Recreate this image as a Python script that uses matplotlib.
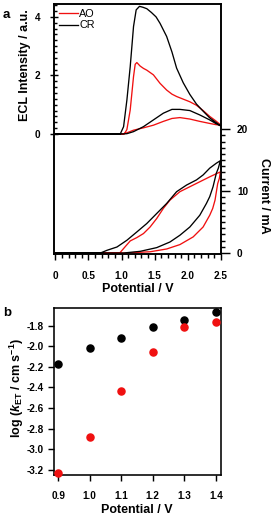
import matplotlib
matplotlib.use("Agg")
import matplotlib.pyplot as plt
from matplotlib.ticker import FixedLocator, MultipleLocator
import numpy as np

plt.rcParams['font.family'] = ['Liberation Sans', 'DejaVu Sans']
plt.rcParams['font.weight'] = 'bold'
plt.rcParams['mathtext.fontset'] = 'custom'
plt.rcParams['mathtext.rm'] = 'Liberation Sans:bold'
plt.rcParams['mathtext.it'] = 'Liberation Sans:italic:bold'
plt.rcParams['mathtext.bf'] = 'Liberation Sans:bold'

# ---- Panel a: ECL intensity vs potential (forward then reverse scan) ----
cr_ecl_v = [0.0, 0.98, 1.03, 1.08, 1.13, 1.18, 1.22, 1.27, 1.32, 1.38, 1.45, 1.52, 1.58, 1.68,
            1.76, 1.83, 1.93, 2.03, 2.13, 2.23, 2.33, 2.42, 2.5,
            2.42, 2.33, 2.18, 2.03, 1.88, 1.76, 1.63, 1.48, 1.33, 1.18, 1.08, 1.0, 0.0]
cr_ecl_i = [0.0, 0.0, 0.25, 1.16, 2.30, 3.67, 4.24, 4.36, 4.33, 4.28, 4.15, 4.0, 3.78, 3.33,
            2.80, 2.25, 1.75, 1.35, 1.02, 0.78, 0.55, 0.40, 0.27,
            0.36, 0.48, 0.65, 0.80, 0.84, 0.84, 0.71, 0.48, 0.25, 0.08, 0.01, 0.0, 0.0]
ao_ecl_v = [0.0, 1.04, 1.08, 1.13, 1.155, 1.18, 1.205, 1.23, 1.28, 1.33, 1.38, 1.48, 1.58, 1.68,
            1.76, 1.83, 1.93, 2.03, 2.13, 2.23, 2.33, 2.42, 2.5,
            2.42, 2.33, 2.18, 2.03, 1.88, 1.76, 1.63, 1.48, 1.33, 1.18, 1.08, 1.02, 0.0]
ao_ecl_i = [0.0, 0.0, 0.15, 0.82, 1.39, 1.96, 2.38, 2.44, 2.32, 2.24, 2.18, 2.02, 1.73, 1.50,
            1.36, 1.28, 1.19, 1.10, 0.98, 0.80, 0.60, 0.45, 0.30,
            0.32, 0.36, 0.43, 0.51, 0.56, 0.53, 0.43, 0.30, 0.21, 0.13, 0.04, 0.0, 0.0]

# ---- Panel a: cyclic voltammograms (current, mA) ----
cr_cv_v = [0.0, 1.03, 1.28, 1.53, 1.73, 1.88, 2.03, 2.18, 2.28, 2.33, 2.38, 2.43, 2.46, 2.49,
           2.43, 2.33, 2.23, 2.13, 1.98, 1.83, 1.68, 1.53, 1.38, 1.23, 1.08, 0.93, 0.78, 0.68, 0.0]
cr_cv_i = [0.0, 0.0, 0.27, 0.87, 1.78, 2.87, 4.2, 6.1, 8.0, 9.1, 10.7, 12.9, 13.7, 14.9,
           14.5, 13.7, 12.6, 11.8, 10.97, 9.9, 8.0, 6.38, 4.76, 3.4, 2.06, 0.97, 0.44, 0.0, 0.0]
ao_cv_v = [0.0, 1.05, 1.43, 1.68, 1.88, 2.08, 2.23, 2.33, 2.375, 2.41, 2.45, 2.475, 2.49,
           2.33, 2.18, 2.03, 1.88, 1.73, 1.63, 1.53, 1.43, 1.33, 1.23, 1.13, 1.05, 0.98, 0.96, 0.0]
ao_cv_i = [0.0, 0.0, 0.2, 0.65, 1.36, 2.6, 4.2, 6.1, 7.2, 8.54, 11.2, 12.05, 13.1,
           12.3, 11.5, 10.7, 9.9, 8.54, 7.2, 5.57, 4.2, 3.14, 2.49, 1.95, 0.97, 0.1, 0.0, 0.0]

# ---- Panel b: log(k_ET) vs potential ----
pot_b = [0.9, 1.0, 1.1, 1.2, 1.3, 1.4]
cr_logk = [-2.177, -2.018, -1.919, -1.813, -1.747, -1.668]
ao_logk = [-3.231, -2.881, -2.431, -2.061, -1.813, -1.770]

RED = '#f01010'
BLACK = '#000000'
W, H = 273, 515
fig = plt.figure(figsize=(W / 100, H / 100), dpi=100)

def frac(l, t, r, b):
    return [l / W, 1 - b / H, (r - l) / W, (b - t) / H]

def fx(x):
    return x / W

def fy(y):
    return 1 - y / H

FS = 7.2
LFS = 9.0
SW = 1.15
ax1 = fig.add_axes(frac(54, 4, 221, 254))
ax2 = ax1.twinx()
ax1.plot(ao_ecl_v, ao_ecl_i, color=RED, lw=0.95, label='AO')
ax1.plot(cr_ecl_v, cr_ecl_i, color=BLACK, lw=0.95, label='CR')
ax2.plot(ao_cv_v, ao_cv_i, color=RED, lw=0.95)
ax2.plot(cr_cv_v, cr_cv_i, color=BLACK, lw=0.95)
ax1.set_xlim(-0.02, 2.5)
ax1.set_ylim(-4.10, 4.44)
ax2.set_ylim(-0.16, 40.2)
ax1.set_yticks([0, 2, 4])
ax1.yaxis.set_minor_locator(FixedLocator(np.arange(0, 4.41, 0.2)))
ax2.set_yticks([0, 10, 20])
ax2.yaxis.set_minor_locator(FixedLocator(np.arange(0, 20.1, 1)))
ax1.set_xticks([0, 0.5, 1.0, 1.5, 2.0, 2.5])
ax1.set_xticklabels(['0', '0.5', '1.0', '1.5', '2.0', '2.5'])
ax1.xaxis.set_minor_locator(MultipleLocator(0.1))
for ax in (ax1, ax2):
    for s in ax.spines.values():
        s.set_linewidth(SW)
    ax.tick_params(which='both', width=SW * 0.9, labelsize=FS)
ax1.tick_params(axis='x', which='major', direction='out', length=4, pad=8)
ax1.tick_params(axis='x', which='minor', direction='out', length=3)
ax1.tick_params(axis='y', which='major', direction='inout', length=6, pad=7)
ax1.tick_params(axis='y', which='minor', direction='in', length=2.2)
ax2.tick_params(axis='y', which='major', direction='out', length=6.5, pad=5)
ax2.tick_params(axis='y', which='minor', direction='out', length=3)

fig.text(fx(138), fy(289.5), 'Potential / V', fontsize=LFS, fontweight='bold',
         ha='center', va='center')
fig.text(fx(25), fy(65), 'ECL Intensity / a.u.', fontsize=LFS, fontweight='bold',
         ha='center', va='center', rotation=90)
fig.text(fx(264), fy(196), 'Current / mA', fontsize=LFS, fontweight='bold',
         ha='center', va='center', rotation=270)
ax1.legend(loc='upper left', frameon=False, handlelength=1.8,
           handletextpad=0.1, borderaxespad=0.25, labelspacing=0.15,
           borderpad=0.2, prop={'size': 7.8, 'weight': 'normal'})
fig.text(fx(3), fy(15), 'a', fontsize=9.5, fontweight='bold', va='center', ha='left')

# ---- Panel b ----
axb = fig.add_axes(frac(54, 308, 221, 475))
axb.scatter(pot_b, cr_logk, s=26, color=BLACK, zorder=3, clip_on=False)
axb.scatter(pot_b, ao_logk, s=26, color=RED, zorder=3, clip_on=False)
axb.set_xlim(0.887, 1.416)
axb.set_ylim(-3.25, -1.63)
axb.set_xticks(pot_b)
axb.set_xticklabels(['0.9', '1.0', '1.1', '1.2', '1.3', '1.4'])
axb.set_yticks([-3.2, -3.0, -2.8, -2.6, -2.4, -2.2, -2.0, -1.8])
axb.set_yticklabels(['-3.2', '-3.0', '-2.8', '-2.6', '-2.4', '-2.2', '-2.0', '-1.8'])
for s in axb.spines.values():
    s.set_linewidth(SW)
axb.tick_params(which='major', length=4.5, width=SW * 0.9, labelsize=FS)
axb.tick_params(axis='x', pad=7)
axb.tick_params(axis='y', pad=3)
fig.text(fx(137), fy(510), 'Potential / V', fontsize=LFS, fontweight='bold',
         ha='center', va='center')
fig.text(fx(17), fy(388), r'log ($\mathit{k}_{\mathrm{ET}}$ / cm s$^{\mathrm{-1}}$)',
         fontsize=LFS, fontweight='bold', ha='center', va='center', rotation=90)
fig.text(fx(3), fy(313), 'b', fontsize=9.5, fontweight='bold', va='center', ha='left')

fig.savefig('out.png', dpi=100)
